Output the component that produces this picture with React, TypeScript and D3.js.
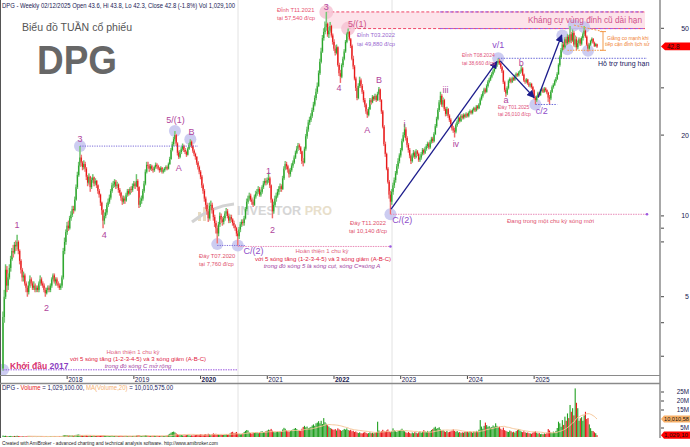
import React from "react";
import * as d3 from "d3";

// ---------- DATA ----------
const firstOpen = 2.7;
const years = [2017, 2018, 2019, 2020, 2021, 2022, 2023, 2024, 2025];
const boldYears = [2020, 2022];

// weekly [high, low, close]
const q2017 = [
[4.4,2.65,4.2],[5.3,4.0,5.0],[6.6,4.9,6.3],[6.5,5.2,5.5],[6.1,5.3,5.9],[6.6,5.8,6.4],[7.1,6.2,6.9],[7.6,6.8,7.4],[7.8,7.0,7.3],[8.0,7.2,7.8],
[8.1,7.4,7.7],[8.5,7.5,8.0],[8.1,7.2,7.4],[7.5,6.6,6.8],[6.9,6.1,6.3],[6.4,5.7,5.9],[6.2,5.7,6.0],[6.1,5.5,5.6],[5.7,5.2,5.4],[5.5,5.0,5.2],
[5.7,5.1,5.5],[6.0,5.4,5.8],[5.9,5.5,5.6],[5.7,5.3,5.4],[5.7,5.3,5.5],[5.6,5.2,5.3],[5.5,5.2,5.4],[5.5,5.2,5.3],[5.7,5.2,5.6],[6.0,5.5,5.8],
[5.9,5.5,5.6],[5.7,5.4,5.5],[5.6,5.2,5.3],[5.4,5.0,5.15],[5.4,5.1,5.3],[5.5,5.2,5.4],[5.5,5.2,5.3],[5.6,5.2,5.5],[5.9,5.4,5.8],[6.1,5.7,6.0],
[6.1,5.6,5.7],[5.9,5.5,5.8],[5.9,5.5,5.6],[5.7,5.4,5.5],[5.6,5.3,5.4],[5.6,5.3,5.5],[6.0,5.4,5.9],[7.6,5.8,7.4],[8.3,7.2,8.0],[8.9,7.8,8.7]
];
const q2018 = [
[9.5,8.5,9.2],[9.6,8.8,9.0],[10.0,8.9,9.8],[10.4,9.6,10.1],[10.9,9.9,10.6],[10.9,10.2,10.5],[11.8,10.4,11.5],[13.1,11.4,12.8],[14.6,12.6,14.2],[15.9,14.0,15.4],
[18.2,15.2,16.5],[16.9,15.3,15.8],[16.0,14.8,15.2],[16.1,14.9,15.6],[15.9,14.6,15.0],[15.2,13.6,14.0],[14.2,12.9,13.3],[14.4,13.1,14.0],[14.1,12.3,12.8],[13.9,12.6,13.6],
[14.3,13.3,13.9],[14.0,12.9,13.2],[13.8,13.0,13.5],[13.6,12.7,13.0],[13.1,12.1,12.4],[12.6,11.7,12.0],[12.1,10.9,11.2],[11.3,10.1,10.5],[10.6,9.0,9.6],[10.3,9.3,10.0],
[10.6,9.8,10.3],[11.2,10.1,11.0],[11.6,10.8,11.3],[12.0,11.1,11.7],[12.6,11.5,12.4],[13.3,12.2,13.0],[13.5,12.7,13.1],[13.7,12.8,13.4],[13.6,12.6,12.9],[13.4,12.7,13.1],
[13.2,12.2,12.5],[12.7,11.9,12.2],[12.3,11.4,11.7],[11.9,11.0,11.3],[11.9,11.1,11.6],[11.8,11.1,11.4],[12.2,11.3,12.0],[12.6,11.8,12.4],[12.6,11.9,12.1],[12.8,12.0,12.6],
[12.9,12.2,12.5],[13.2,12.3,12.9]
];
const q2019 = [
[13.5,12.7,13.2],[13.4,12.6,12.9],[14.3,12.8,13.5],[13.7,12.4,12.8],[12.9,10.7,11.0],[11.7,10.8,11.4],[11.9,11.1,11.6],[12.6,11.4,12.4],[13.5,12.2,13.2],[14.9,13.0,14.6],
[15.9,14.4,15.5],[15.9,15.0,15.4],[15.6,14.6,15.0],[15.6,14.8,15.3],[15.5,14.7,15.0],[15.2,14.5,14.8],[15.4,14.6,15.2],[15.8,15.0,15.5],[15.7,15.0,15.3],[15.5,14.8,15.0],
[15.2,14.5,14.8],[15.3,14.6,15.1],[15.2,14.4,14.6],[15.0,14.4,14.8],[15.2,14.6,15.0],[15.4,14.8,15.2],[15.4,14.8,15.0],[15.8,14.9,15.6],[16.6,15.5,16.3],[17.9,16.2,17.6],
[18.9,17.4,18.5],[19.7,18.2,19.3],[20.7,19.0,20.0],[20.2,18.2,18.6],[18.8,16.8,17.2],[17.5,16.3,16.6],[17.6,16.4,17.3],[18.1,17.0,17.8],[18.6,17.5,18.2],[18.4,17.3,17.6],
[17.9,17.0,17.3],[17.5,16.6,16.9],[18.0,16.8,17.8],[18.7,17.6,18.4],[19.3,18.1,18.9],[19.1,17.9,18.2],[18.4,17.2,17.5],[17.7,16.7,17.0],[17.2,16.2,16.6],[16.7,15.5,15.8],
[16.0,14.9,15.2],[15.4,14.3,14.6]
];
const q2020 = [
[14.8,13.7,14.0],[14.2,12.7,13.0],[13.2,12.1,12.4],[12.6,11.3,11.6],[11.8,10.6,11.0],[11.2,10.1,10.4],[10.6,9.5,9.8],[11.2,9.7,10.9],[11.4,10.5,11.0],[11.2,10.2,10.5],
[10.7,9.6,9.9],[10.1,9.1,9.4],[9.6,8.6,9.0],[9.2,7.9,8.6],[9.5,8.4,9.3],[10.3,9.1,10.0],[10.2,9.4,9.7],[9.9,9.2,9.5],[10.0,9.3,9.8],[10.4,9.6,10.2],
[10.7,10.0,10.4],[10.6,9.8,10.0],[10.2,9.4,9.6],[10.1,9.4,9.9],[10.1,9.5,9.7],[9.8,9.2,9.4],[9.6,9.0,9.2],[9.3,8.8,9.0],[9.1,8.4,8.6],[8.8,7.76,8.4],
[9.1,8.2,8.9],[9.5,8.7,9.3],[9.7,9.1,9.5],[9.7,9.2,9.4],[10.0,9.2,9.8],[10.8,9.7,10.6],[11.6,10.4,11.3],[11.9,11.1,11.6],[12.2,11.4,11.9],[12.1,11.3,11.5],
[11.7,11.0,11.3],[11.5,10.8,11.0],[12.0,10.9,11.8],[12.4,11.6,12.1],[12.6,11.9,12.3],[12.9,12.1,12.6],[12.8,11.8,12.0],[12.5,11.8,12.3],[13.0,12.1,12.8],[13.5,12.6,13.2],
[13.8,13.0,13.5],[13.8,13.0,13.3]
];
const q2021 = [
[13.9,13.1,13.6],[14.5,13.3,13.8],[14.0,12.7,13.0],[13.1,11.2,11.5],[11.6,9.8,10.4],[11.3,10.2,11.0],[11.9,10.8,11.6],[12.2,11.3,11.9],[12.6,11.7,12.3],[12.9,12.0,12.6],
[13.2,12.3,12.9],[13.1,12.3,12.6],[14.1,12.5,13.8],[15.3,13.6,15.0],[16.0,14.8,15.6],[15.9,14.9,15.3],[15.5,14.5,14.9],[15.0,13.9,14.3],[15.1,14.0,14.8],[15.7,14.6,15.4],
[16.1,15.1,15.8],[16.8,15.6,16.5],[17.5,16.3,17.2],[18.2,17.0,17.8],[18.7,17.5,18.3],[18.6,17.6,18.0],[18.2,17.0,17.4],[17.5,15.6,16.0],[16.4,15.3,15.8],[18.1,15.7,17.8],
[20.2,17.5,19.8],[21.5,19.4,21.0],[22.8,20.6,22.3],[23.4,21.8,22.8],[24.1,22.4,23.6],[25.3,23.2,24.8],[26.6,24.4,26.0],[28.1,25.6,27.5],[29.8,27.0,29.0],[31.4,28.5,30.5],
[34.8,30.2,34.0],[38.5,33.5,37.5],[42.3,37.0,41.0],[47.2,40.5,46.0],[50.0,45.0,48.5],[53.0,47.5,50.5],[57.54,49.0,52.0],[52.5,46.5,47.5],[50.5,46.0,49.0],[52.8,48.2,51.0],
[51.5,46.2,47.0],[47.8,43.5,44.5]
];
const q2022 = [
[45.5,41.2,42.0],[43.2,39.6,40.5],[43.5,40.0,42.5],[42.8,36.0,36.5],[37.2,33.2,34.0],[35.0,31.3,33.0],[37.0,32.6,36.5],[39.2,35.8,38.5],[41.8,38.0,41.0],[45.2,40.5,44.5],
[48.2,44.0,47.5],[49.88,46.5,48.5],[48.8,45.0,45.5],[46.0,42.2,43.0],[43.5,38.0,38.5],[39.5,35.2,36.0],[36.5,32.0,32.5],[33.0,29.2,30.0],[30.5,27.0,27.5],[31.2,27.2,30.5],
[33.0,30.0,32.0],[32.5,30.0,30.5],[31.0,28.5,29.0],[29.4,26.5,27.0],[27.5,25.4,26.0],[26.3,24.0,24.5],[25.0,23.2,23.8],[25.4,23.5,25.0],[27.5,24.8,27.0],[27.4,26.0,26.5],
[28.2,26.3,27.8],[28.0,26.8,27.2],[28.5,27.0,28.0],[28.3,26.6,27.0],[29.0,26.8,28.5],[30.2,28.2,29.6],[29.8,26.6,27.0],[27.2,24.0,24.5],[24.8,21.2,21.5],[21.8,18.2,18.5],
[18.9,16.6,17.0],[17.2,14.8,15.0],[15.2,13.2,13.4],[13.6,11.6,12.0],[12.4,10.14,11.3],[12.6,11.0,12.3],[13.3,12.0,13.0],[13.9,12.7,13.6],[14.7,13.3,14.4],[15.6,14.2,15.3],
[16.4,15.0,16.0],[17.1,15.7,16.8]
];
const q2023 = [
[17.9,16.5,17.6],[19.4,17.4,19.0],[20.5,18.8,20.0],[22.0,19.6,21.0],[21.4,19.1,19.5],[19.8,18.0,18.4],[18.7,17.2,17.6],[17.9,16.4,16.8],[17.0,15.6,16.0],[17.1,15.8,16.8],
[17.6,16.5,17.2],[17.4,16.3,16.6],[17.7,16.4,17.4],[17.6,16.7,17.0],[17.2,15.9,16.2],[16.8,15.9,16.5],[17.3,16.2,17.0],[17.9,16.8,17.6],[17.8,16.9,17.2],[18.1,17.0,17.8],
[18.5,17.5,18.2],[18.9,17.9,18.6],[18.8,17.7,18.0],[19.2,17.8,18.9],[19.7,18.6,19.4],[19.7,18.7,19.0],[20.5,18.8,20.2],[22.0,20.0,21.6],[23.4,21.3,23.0],[25.2,22.7,24.8],
[27.0,24.4,26.5],[29.0,26.0,28.0],[28.4,25.5,26.0],[27.6,25.4,27.0],[27.3,24.6,25.0],[25.4,23.5,24.0],[25.5,23.6,25.0],[25.2,23.2,23.6],[23.9,22.4,22.8],[23.1,21.6,22.0],
[22.3,20.8,21.2],[21.6,20.4,20.8],[21.3,19.6,20.6],[22.1,20.3,21.8],[22.7,21.5,22.4],[23.5,22.0,23.2],[23.4,22.3,22.6],[23.9,22.4,23.6],[23.9,22.9,23.2],[24.1,22.9,23.8],
[24.0,23.1,23.4],[24.3,23.2,24.0]
];
const q2024 = [
[24.2,23.3,23.6],[24.5,23.3,24.2],[24.9,23.9,24.6],[24.8,23.9,24.2],[25.1,23.9,24.8],[25.5,24.5,25.2],[25.4,24.4,24.7],[25.9,24.5,25.6],[25.9,24.9,25.2],[26.3,25.0,26.0],
[27.6,25.8,27.2],[28.4,26.9,28.0],[29.2,27.6,28.8],[30.0,28.4,29.6],[30.0,28.6,29.0],[30.9,28.8,30.5],[32.0,30.1,31.6],[32.7,31.2,32.2],[33.5,31.8,33.0],[34.3,32.6,33.8],
[35.1,33.4,34.6],[36.1,34.2,35.6],[36.9,35.2,36.4],[37.6,35.9,37.0],[38.66,36.6,37.8],[38.4,36.5,37.0],[37.4,35.3,35.8],[36.2,34.1,34.6],[35.0,31.0,31.5],[31.9,29.0,29.5],
[30.0,27.8,28.6],[30.4,28.2,30.0],[32.2,29.6,31.8],[32.8,31.3,32.4],[32.7,31.2,31.6],[33.0,31.3,32.6],[33.0,31.8,32.2],[33.6,31.9,33.2],[34.2,32.8,33.8],[34.1,33.0,33.4],
[34.6,33.1,34.2],[35.0,33.8,34.6],[36.5,34.2,35.4],[35.8,33.2,33.6],[33.9,31.6,32.0],[32.4,31.1,31.6],[32.6,31.2,32.2],[32.4,30.8,31.2],[31.5,30.2,30.6],[31.4,30.1,31.0],
[31.3,29.8,30.2],[30.5,29.0,29.4]
];
const q2025 = [
[29.6,27.2,27.6],[28.0,26.01,27.0],[28.1,26.6,27.8],[29.0,27.5,28.6],[28.9,27.8,28.2],[29.6,28.0,29.2],[30.0,28.9,29.6],[29.9,28.7,29.0],[30.2,28.8,29.8],[30.1,29.0,29.4],
[29.6,28.4,28.8],[29.0,26.6,27.6],[28.2,26.0,27.4],[29.4,27.0,29.0],[30.6,28.7,30.2],[31.2,29.8,30.8],[32.2,30.5,31.8],[32.9,31.4,32.4],[34.3,32.1,33.8],[37.0,33.5,36.5],
[39.6,36.0,39.0],[42.2,38.5,41.5],[44.4,41.0,43.5],[44.6,41.6,42.5],[46.3,42.0,45.5],[46.5,43.2,44.0],[47.5,43.5,46.5],[47.2,43.8,44.5],[51.0,44.0,47.5],[48.5,44.0,45.0],
[49.5,44.5,48.0],[48.8,42.8,43.5],[47.0,42.5,45.5],[46.5,41.5,42.5],[45.0,41.8,44.0],[46.2,43.2,45.5],[46.0,43.0,43.8],[46.6,43.2,46.0],[48.2,45.0,47.5],[51.0,46.8,49.0],
[49.5,46.0,46.5],[47.0,43.0,43.5],[44.2,41.0,42.0],[44.0,41.6,43.5],[45.3,43.0,44.8],[46.2,44.2,45.6],[46.0,43.8,44.2],[44.6,42.6,43.0],[44.0,42.7,43.6],[43.8,42.3,42.8]
];

// weekly volume, millions of shares
const v2017 = [0.8,0.6,0.7,0.5,0.4,0.5,0.6,0.5,0.4,0.6, 0.5,0.7,0.5,0.4,0.3,0.4,0.3,0.3,0.4,0.3, 0.3,0.4,0.3,0.2,0.3,0.3,0.2,0.3,0.3,0.4, 0.3,0.3,0.2,0.3,0.3,0.2,0.3,0.4,0.4,0.5, 0.4,0.3,0.3,0.3,0.4,0.3,0.5,0.9,1.0,1.1];
const v2018 = [1.0,0.8,0.9,0.8,0.9,0.7,1.0,1.2,1.3,1.4, 1.2,0.9,0.8,0.7,0.8,0.9,0.7,0.6,0.8,0.6, 0.6,0.7,0.5,0.6,0.6,0.7,0.8,0.9,1.0,0.8, 0.7,0.6,0.6,0.5,0.6,0.7,0.5,0.6,0.5,0.5, 0.5,0.6,0.6,0.5,0.4,0.5,0.6,0.5,0.5,0.6, 0.5,0.6];
const v2019 = [0.6,0.5,0.8,0.9,1.1,0.7,0.6,0.7,0.8,1.0, 0.9,0.7,0.6,0.6,0.5,0.6,0.7,0.6,0.5,0.5, 0.6,0.5,0.5,0.6,0.6,0.7,0.9,1.3,1.8,2.4, 2.8,3.0,2.6,2.0,1.6,1.2,1.0,1.1,0.9,0.8, 0.9,1.0,1.2,0.9,0.8,0.9,0.8,0.9,1.0,1.2, 1.1,1.3];
const v2020 = [1.5,1.4,1.2,1.4,1.6,1.3,1.8,1.5,1.2,1.6, 2.0,1.7,1.8,1.5,1.4,1.2,1.3,1.1,1.2,1.4, 1.6,1.3,1.5,2.0,2.6,2.9,2.2,2.4,2.8,1.9, 1.7,1.5,1.6,2.0,2.8,3.4,3.9,3.6,2.5,2.2, 1.9,2.4,2.3,2.6,2.8,2.1,2.5,3.0,3.2,2.7, 2.8,3.3];
const v2021 = [3.6,4.1,3.8,4.5,3.5,2.9,2.6,2.8,3.0,2.7, 3.2,2.9,4.2,5.1,4.6,3.7,3.2,3.0,3.4,3.9, 4.2,4.6,5.0,4.4,3.8,3.5,3.3,4.6,5.6,6.2, 5.4,5.8,4.9,5.2,5.6,6.4,7.0,6.2,7.6,8.0, 8.8,7.6,9.0,7.2,10.5,8.2,7.4,6.5,5.8,5.0, 4.6,4.2];
const v2022 = [4.0,4.4,3.6,4.8,4.2,3.8,3.4,3.9,4.5,4.1, 4.8,3.9,3.6,4.0,3.2,3.5,2.8,3.1,2.5,2.2, 2.6,2.1,2.0,2.4,2.7,2.3,1.9,2.2,2.6,2.1, 2.4,2.0,2.3,2.8,8.5,3.6,2.8,3.2,4.0,3.4, 3.0,3.6,4.2,3.0,2.6,3.3,4.8,3.8,3.2,2.8, 3.4,3.6];
const v2023 = [4.0,4.6,3.8,3.2,2.6,2.2,2.8,2.3,1.9,2.5, 2.1,2.7,2.4,2.0,2.6,3.2,2.4,2.9,3.8,3.1, 2.7,3.4,2.8,3.3,3.9,4.4,5.2,5.7,4.6,5.0, 5.4,4.2,3.6,3.9,3.2,2.8,3.4,2.6,2.9,3.1, 3.6,4.2,3.4,2.9,3.3,2.5,2.8,2.2,2.6,2.4, 2.9,2.7];
const v2024 = [3.0,2.6,3.2,2.8,2.4,3.1,2.7,3.4,3.0,4.1, 9.4,5.8,4.6,6.2,8.0,6.6,5.7,6.0,5.2,5.6, 6.4,5.8,7.6,6.2,5.4,5.8,4.6,4.0,5.2,3.8, 3.4,3.0,2.8,3.6,3.2,2.6,2.9,2.4,3.3,3.8, 4.4,3.6,3.0,2.7,3.2,2.6,2.3,2.5,2.1,2.0, 1.8,2.4];
const v2025 = [2.8,3.2,2.4,1.9,2.2,1.6,1.8,1.5,2.0,1.7, 2.3,4.4,3.6,2.6,2.2,3.0,2.4,3.4,5.0,8.5, 7.6,5.7,9.4,6.7,11.3,9.0,13.1,10.5,17.8,14.0, 16.0,12.0,27.0,19.0,16.0,9.0,10.4,11.0,9.0,12.0, 14.0,10.0,10.5,7.0,4.9,3.3825,3.3,2.6,2.1,1.0291];

const priceTicks = [50, 30, 20, 10, 9, 8, 5, 4, 3];
const priceLabels = [50, 20, 10, 5];
const volTicks = [25, 20, 15, 5];

const quotesByYear = [q2017, q2018, q2019, q2020, q2021, q2022, q2023, q2024, q2025];
const volByYear = [v2017, v2018, v2019, v2020, v2021, v2022, v2023, v2024, v2025];

// ---------- CHART ----------
const FONT = "'Liberation Sans', Arial, sans-serif";
const UP = "#2aa52a", DN = "#e81818", UPL = "#a6dba6", DNL = "#f5aeae";
const LAV = "#c3c3ef", PINKC = "#f6c3d4";
const WAVE = "#b0449c", VIOLET = "#8e4cc9", NAVY = "#1c1c8c";

export default function App() {
  const bars: any[] = [];
  const yearStart: { year: number; i: number }[] = [];
  let prev = firstOpen;
  quotesByYear.forEach((arr, yi) => {
    yearStart.push({ year: years[yi], i: bars.length });
    arr.forEach(([h, l, c]) => {
      const o = prev;
      bars.push({ i: bars.length, o, h: Math.max(h, o, c), l: Math.min(l, o, c), c });
      prev = c;
    });
  });
  const vols = volByYear.flat().map((v) => v * 1e6);
  const N = bars.length;

  const x = d3.scaleLinear().domain([0, N - 1]).range([3, 597]);
  const y = d3.scaleLog().domain([5, 50]).range([296.7, 28.3]);
  const yv = d3.scaleLinear().domain([0, 25e6]).range([437, 392]);

  const ma: [number, number][] = [];
  for (let i = 19; i < N; i++) ma.push([i, d3.mean(vols.slice(i - 19, i + 1)) as number]);
  const maLine = d3.line<[number, number]>().x((d) => x(d[0])).y((d) => yv(d[1]));
  const lastMA = ma[ma.length - 1][1];
  const lastVol = vols[N - 1];
  const last = bars[N - 1];

  const lavCircles: [number, number][] = [
    [0, 2.67], [60, 18.2], [134, 20.7], [146, 19.3], [167, 7.85], [183, 7.76],
    [302, 10.14], [386, 38.66], [415, 26.01], [436, 47], [445, 51.3], [453, 50.5], [440, 41.8], [456, 41.2],
  ];
  const pinkCircles: [number, number][] = [[252, 57.54], [269, 49.88]];

  const waveLabels: { t: string; i: number; p: number; c?: string; a?: string }[] = [
    { t: "1", i: 11, p: 9.0 }, { t: "2", i: 34, p: 4.44 }, { t: "3", i: 60, p: 18.8 },
    { t: "4", i: 79, p: 8.3 }, { t: "5/(1)", i: 134.5, p: 22.1 }, { t: "A", i: 137, p: 14.7 },
    { t: "B", i: 147, p: 20.0 }, { t: "C/(2)", i: 187.5, p: 7.2, c: VIOLET, a: "start" },
    { t: "1", i: 207, p: 14.3 }, { t: "2", i: 210, p: 8.6 }, { t: "3", i: 252, p: 58.6 },
    { t: "4", i: 262, p: 29.3 }, { t: "5/(1)", i: 269, p: 50.6, c: "#cf4f88", a: "start" },
    { t: "A", i: 284, p: 20.4 }, { t: "B", i: 293, p: 31.3 },
    { t: "C/(2)", i: 303.5, p: 9.4, c: VIOLET, a: "start" },
    { t: "i", i: 313, p: 21.4 }, { t: "iii", i: 345, p: 28.7 }, { t: "iv", i: 353, p: 18.1 },
    { t: "v/1", i: 386, p: 42.2, c: VIOLET }, { t: "a", i: 392, p: 26.4 }, { t: "b", i: 404, p: 36.2 },
    { t: "c/2", i: 420, p: 24.0, c: VIOLET },
  ];

  const bandL = x(252), bandR = 645;
  const fmt = d3.format(",.0f");

  return (
    <svg width={690} height={447} style={{ position: "absolute", left: 0, top: 0, background: "#fff" }} fontFamily={FONT}>
      <defs>
        <clipPath id="mainClip"><rect x={1} y={0} width={659} height={375} /></clipPath>
        <marker id="arr" viewBox="0 0 10 10" refX="9" refY="5" markerWidth="6" markerHeight="6" orient="auto">
          <path d="M0,0 L10,5 L0,10 z" fill={NAVY} />
        </marker>
      </defs>
      <rect x={0} y={0} width={690} height={447} fill="#fff" />

      {/* light vertical markers */}
      <line x1={238} x2={238} y1={0} y2={438} stroke="#e2e2e2" />
      <line x1={392} x2={392} y1={0} y2={438} stroke="#e2e2e2" />

      {/* resistance band */}
      <rect x={bandL} y={y(57.54)} width={bandR - bandL} height={y(49.88) - y(57.54)} fill="#fde3ea" />
      <line x1={bandL} x2={bandR} y1={y(57.54)} y2={y(57.54)} stroke="#ee4466" strokeDasharray="3,2" />
      <line x1={x(269)} x2={bandR} y1={y(49.88)} y2={y(49.88)} stroke="#ee4466" strokeDasharray="3,2" />
      <line x1={440} x2={bandR} y1={y(57.54)} y2={y(57.54)} stroke="#9b59e0" strokeDasharray="3,2" />
      <line x1={440} x2={bandR} y1={y(49.88)} y2={y(49.88)} stroke="#9b59e0" strokeDasharray="3,2" />

      {/* watermark */}
      <g opacity={0.9}>
        <rect x={198} y={212} width={3} height={9} fill="#e6d8bb" />
        <rect x={203} y={207} width={3} height={14} fill="#e6d8bb" />
        <rect x={208} y={203} width={3} height={18} fill="#e6d8bb" />
        <path d="M192,222 Q212,206 234,204" fill="none" stroke="#cfcfcf" strokeWidth={3} />
        <text x={237} y={215} fontSize={13} fontWeight="bold" fill="#d2d2d2" textLength={95} lengthAdjust="spacingAndGlyphs">
          INVESTOR <tspan fill="#e6dcc6">PRO</tspan>
        </text>
      </g>

      {/* circles behind candles */}
      {lavCircles.map(([i, p], k) => (
        <circle key={"lc" + k} cx={x(i)} cy={y(p)} r={6} fill={LAV} opacity={0.85} />
      ))}
      {pinkCircles.map(([i, p], k) => (
        <circle key={"pc" + k} cx={x(i)} cy={y(p)} r={7} fill={PINKC} opacity={0.85} />
      ))}

      {/* candles */}
      <g clipPath="url(#mainClip)">
        {bars.map((b) => {
          const up = b.c >= b.o;
          const cx = x(b.i);
          const top = y(Math.max(b.o, b.c)), bot = y(Math.min(b.o, b.c));
          return (
            <g key={b.i}>
              <line x1={cx} x2={cx} y1={y(b.h)} y2={y(b.l)} stroke={up ? UPL : DNL} strokeWidth={1.7} />
              <line x1={cx} x2={cx} y1={y(b.h)} y2={y(b.l)} stroke={up ? UP : DN} strokeWidth={0.5} />
              <rect x={cx - 0.6} y={top} width={1.2} height={Math.max(1, bot - top)} fill={up ? UP : DN} />
            </g>
          );
        })}
      </g>

      {/* horizontal guide lines */}
      <line x1={x(60)} x2={x(152)} y1={y(18.2)} y2={y(18.2)} stroke="#7a6ad8" strokeDasharray="1.2,1.2" />
      <line x1={x(167)} x2={x(188.5)} y1={y(7.76)} y2={y(7.76)} stroke="#7a6ad8" strokeDasharray="1.2,1.2" />
      <line x1={x(183)} x2={x(302)} y1={y(7.76) + 1} y2={y(7.76) + 1} stroke="#e88ab8" strokeDasharray="1.5,1" />
      <circle cx={x(302)} cy={y(7.76) + 1} r={1.3} fill="#9b59e0" />
      <line x1={x(0)} x2={x(183)} y1={y(2.67)} y2={y(2.67)} stroke="#9b59e0" strokeDasharray="1.5,1" />
      <line x1={x(302)} x2={647} y1={y(10.14)} y2={y(10.14)} stroke="#e88ab8" strokeDasharray="1.5,1" />
      <circle cx={647} cy={y(10.14)} r={1.3} fill="#9b59e0" />
      <line x1={x(386)} x2={647} y1={y(38.66)} y2={y(38.66)} stroke="#6a6ad8" strokeDasharray="1.5,1.2" />
      <line x1={x(415)} x2={x(432)} y1={y(26.01)} y2={y(26.01)} stroke="#6a6ad8" strokeDasharray="1.5,1.2" />

      {/* wave arrows */}
      <line x1={x(302.5)} y1={y(10.6)} x2={x(385)} y2={y(37.6)} stroke={NAVY} strokeWidth={1.3} markerEnd="url(#arr)" />
      <line x1={x(387.5)} y1={y(37.8)} x2={x(414)} y2={y(27.6)} stroke={NAVY} strokeWidth={1.3} markerEnd="url(#arr)" />
      <line x1={x(417)} y1={y(27.6)} x2={x(435.5)} y2={y(47.2)} stroke={NAVY} strokeWidth={1.3} markerEnd="url(#arr)" />

      {/* consolidation box */}
      <line x1={x(445)} y1={y(51.4)} x2={603} y2={y(48.6)} stroke="#f39a4a" strokeDasharray="2,1.5" />
      <line x1={x(440)} y1={y(41.4)} x2={603} y2={y(41.4)} stroke="#f39a4a" strokeDasharray="1.5,1.2" />
      <line x1={603} y1={y(48.6)} x2={603} y2={y(41.4)} stroke="#f39a4a" />
      <line x1={600} y1={y(48.6)} x2={606} y2={y(48.6)} stroke="#f39a4a" />
      <line x1={600} y1={y(41.4)} x2={606} y2={y(41.4)} stroke="#f39a4a" />

      {/* wave labels */}
      {waveLabels.map((w, k) => (
        <text key={"w" + k} x={x(w.i)} y={y(w.p)} fontSize={9} fill={w.c || WAVE} textAnchor={w.a || "middle"}>{w.t}</text>
      ))}

      {/* annotation texts */}
      <text x={2} y={8} fontSize={7} fill="#1a1a55" textLength={233} lengthAdjust="spacingAndGlyphs">
        {`DPG - Weekly 02/12/2025 Open ${last.o}, Hi ${last.h}, Lo ${last.l}, Close ${last.c} (-1.8%) Vol 1,029,100`}
      </text>
      <text x={22} y={31} fontSize={10.5} fill="#555" textLength={110} lengthAdjust="spacingAndGlyphs">Biểu đồ TUẦN cổ phiếu</text>
      <text x={37} y={74} fontSize={41} fontWeight="bold" fill="#676767" textLength={80} lengthAdjust="spacingAndGlyphs">DPG</text>

      <text x={528} y={23} fontSize={9} fill="#d0508a" textLength={114} lengthAdjust="spacingAndGlyphs">Kháng cự vùng đỉnh cũ dài hạn</text>
      <g fontSize={5.8} fill="#e8506e">
        <text x={277} y={12}>Đỉnh T11.2021</text>
        <text x={277} y={20}>tại 57,540 đ/cp</text>
      </g>
      <g fontSize={5.8} fill="#9a6ad0">
        <text x={357} y={37}>Đỉnh T03.2022</text>
        <text x={357} y={46}>tại 49,880 đ/cp</text>
      </g>
      <g fontSize={5.8} fill="#e0506a">
        <text x={350} y={225}>Đáy T11.2022</text>
        <text x={349} y={233}>tại 10,140 đ/cp</text>
        <text x={199} y={258}>Đáy T07.2020</text>
        <text x={199} y={266}>tại 7,760 đ/cp</text>
      </g>
      <g fontSize={5} fill="#e0507a">
        <text x={462} y={57}>Đỉnh T08.2024</text>
        <text x={462} y={65}>tại 38,660 đ/cp</text>
        <text x={498} y={109}>Đáy T01.2025</text>
        <text x={498} y={116}>tại 26,010 đ/cp</text>
      </g>
      <text x={598} y={66} fontSize={7} fill="#202060">Hỗ trợ trung hạn</text>
      <g fontSize={5} fill="#f08030">
        <text x={607} y={40}>Giằng co mạnh khi</text>
        <text x={605} y={46}>tiếp cận đỉnh lịch sử</text>
      </g>
      <text x={507} y={223} fontSize={6} fill="#e05070">Đang trong một chu kỳ sóng mới</text>

      <g fontSize={6} textAnchor="middle">
        <text x={322} y={253} fill="#e06080">Hoàn thiện 1 chu kỳ</text>
        <text x={323} y={261} fill="#e02040">với 5 sóng tăng (1-2-3-4-5) và 3 sóng giảm (A-B-C)</text>
        <text x={322} y={268} fill="#a040a0" fontStyle="italic">trong đó sóng 5 là sóng cụt, sóng C=sóng A</text>
        <text x={133} y={354} fill="#e06080">Hoàn thiện 1 chu kỳ</text>
        <text x={138} y={361} fill="#e02040">với 5 sóng tăng (1-2-3-4-5) và 3 sóng giảm (A-B-C)</text>
        <text x={138} y={368} fill="#a040a0" fontStyle="italic">trong đó sóng C mở rộng</text>
      </g>
      <text x={10} y={369} fontSize={8.5} fontWeight="bold" fill="#d8306e">
        Khởi đầu <tspan fill="#8a40c0">2017</tspan>
      </text>

      {/* frame */}
      <line x1={0.5} x2={0.5} y1={0} y2={438} stroke="#555" />
      <line x1={660} x2={660} y1={0} y2={438} stroke="#a8a8a8" strokeWidth={2} />
      <line x1={0} x2={660} y1={375.5} y2={375.5} stroke="#8a8a8a" />
      <line x1={0} x2={660} y1={383.5} y2={383.5} stroke="#8a8a8a" strokeWidth={1.3} />

      {/* price axis */}
      {priceTicks.map((t) => (
        <line key={"pt" + t} x1={661} x2={664} y1={y(t)} y2={y(t)} stroke="#444" />
      ))}
      {priceLabels.map((t) => (
        <text key={"pl" + t} x={689} y={y(t) + 2.5} fontSize={7} fill="#202050" textAnchor="end">{t}</text>
      ))}
      <path d={`M661,${y(last.c)} L665,${y(last.c) - 3.8} L690,${y(last.c) - 3.8} L690,${y(last.c) + 3.8} L665,${y(last.c) + 3.8} Z`} fill="#ff0000" />
      <text x={667} y={y(last.c) + 2.4} fontSize={6.5} fill="#111">{last.c}</text>

      {/* year axis */}
      {yearStart.filter((d) => d.year > 2017).map((d) => (
        <g key={"y" + d.year}>
          <line x1={x(d.i)} x2={x(d.i)} y1={376} y2={379} stroke="#444" />
          <text x={x(d.i) + 1} y={382} fontSize={6.5} fill="#202050" fontWeight={boldYears.includes(d.year) ? "bold" : "normal"}>{d.year}</text>
        </g>
      ))}

      {/* volume panel */}
      <text x={2} y={390} fontSize={6.5} fill="#202060" textLength={171} lengthAdjust="spacingAndGlyphs">
        DPG - <tspan fill="#e82020">Volume</tspan> = 1,029,100.00, <tspan fill="#f5b070">MA(Volume,20)</tspan> = 10,010,575.00
      </text>
      {bars.map((b) => {
        const up = b.c >= b.o;
        const v = vols[b.i];
        return (
          <rect key={"v" + b.i} x={x(b.i) - 0.55} y={yv(v)} width={1.1} height={Math.max(0.4, yv(0) - yv(v))} fill={up ? "#22a022" : "#e81a1a"} />
        );
      })}
      <path d={maLine(ma) || ""} fill="none" stroke="#f6c79a" strokeWidth={1} />
      {volTicks.map((t) => (
        <g key={"vt" + t}>
          <line x1={661} x2={664} y1={yv(t * 1e6)} y2={yv(t * 1e6)} stroke="#444" />
          <text x={689} y={yv(t * 1e6) + 2.3} fontSize={6.3} fill="#202050" textAnchor="end">{t}M</text>
        </g>
      ))}
      <path d={`M661,${yv(lastMA)} L664,${yv(lastMA) - 3.6} L690,${yv(lastMA) - 3.6} L690,${yv(lastMA) + 3.6} L664,${yv(lastMA) + 3.6} Z`} fill="#f7b068" />
      <text x={664} y={yv(lastMA) + 2.1} fontSize={5.2} fill="#111" textLength={25} lengthAdjust="spacingAndGlyphs">{fmt(lastMA).slice(0, 9)}</text>
      <path d={`M661,${yv(lastVol)} L664,${yv(lastVol) - 3.6} L690,${yv(lastVol) - 3.6} L690,${yv(lastVol) + 3.6} L664,${yv(lastVol) + 3.6} Z`} fill="#ff0000" />
      <text x={664} y={yv(lastVol) + 2.1} fontSize={5.6} fill="#111" textLength={24} lengthAdjust="spacingAndGlyphs">{fmt(lastVol).slice(0, 8)}</text>

      <text x={2} y={445} fontSize={5.5} fill="#222" textLength={216} lengthAdjust="spacingAndGlyphs">
        Created with AmiBroker - advanced charting and technical analysis software. http://www.amibroker.com
      </text>
    </svg>
  );
}
